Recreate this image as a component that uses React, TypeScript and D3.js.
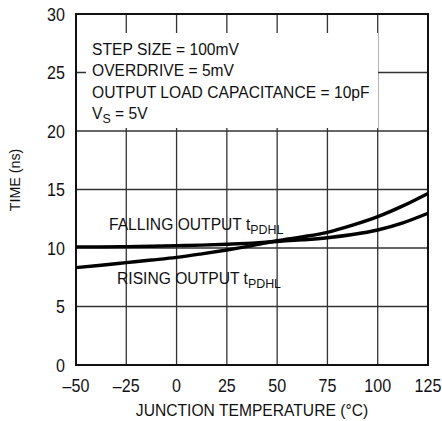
import React, { useRef, useEffect } from 'react';
import * as d3 from 'd3';

// Junction temperature (°C) sample points
const TEMPS = [-50, -37.5, -25, -12.5, 0, 12.5, 25, 37.5, 50, 62.5, 75, 87.5, 100, 112.5, 125];
// Falling output tPDHL (ns)
const FALLING = [10.1, 10.1, 10.12, 10.15, 10.2, 10.25, 10.32, 10.42, 10.56, 10.7, 10.88, 11.15, 11.54, 12.15, 12.97];
// Rising output tPDHL (ns)
const RISING = [8.32, 8.53, 8.75, 8.97, 9.2, 9.5, 9.83, 10.2, 10.62, 10.95, 11.34, 11.95, 12.68, 13.6, 14.67];

const X_TICKS = [-50, -25, 0, 25, 50, 75, 100, 125];
const Y_TICKS = [0, 5, 10, 15, 20, 25, 30];
const NOTES = ['STEP SIZE = 100mV', 'OVERDRIVE = 5mV', 'OUTPUT LOAD CAPACITANCE = 10pF'];

const WIDTH = 442;
const HEIGHT = 421;
const FONT = "'Liberation Sans', Arial, sans-serif";
const NARROW = 0.92; // squeeze Liberation Sans a little

const App: React.FC = () => {
  const svgRef = useRef<SVGSVGElement>(null);

  useEffect(() => {
    const svgElement = svgRef.current;
    if (!svgElement) return;
    const svg = d3.select(svgElement);
    svg.selectAll('*').remove();

    const x = d3.scaleLinear().domain([-50, 125]).range([76, 428]);
    const y = d3.scaleLinear().domain([0, 30]).range([365, 14]);
    const [x0, x1] = x.range();
    const [y0, y1] = y.range();

    svg.append('rect').attr('width', WIDTH).attr('height', HEIGHT).attr('fill', '#fff');

    // grid
    const grid = svg.append('g').attr('stroke', '#333').attr('stroke-width', 1.3);
    X_TICKS.slice(1, -1).forEach(t => {
      grid.append('line').attr('x1', x(t)).attr('x2', x(t)).attr('y1', y1).attr('y2', y0);
    });
    Y_TICKS.slice(1, -1).forEach(t => {
      grid.append('line').attr('x1', x0).attr('x2', x1).attr('y1', y(t)).attr('y2', y(t));
    });

    // white box behind the notes
    svg.append('rect')
      .attr('x', 86).attr('y', 33).attr('width', 292).attr('height', 95)
      .attr('fill', '#fff');

    // frame
    svg.append('rect')
      .attr('x', x0).attr('y', y1).attr('width', x1 - x0).attr('height', y0 - y1)
      .attr('fill', 'none').attr('stroke', '#111').attr('stroke-width', 2);

    // curves
    const line = d3.line<number>()
      .x((_, i) => x(TEMPS[i]))
      .y(d => y(d))
      .curve(d3.curveMonotoneX);

    [FALLING, RISING].forEach(series => {
      svg.append('path').datum(series)
        .attr('fill', 'none').attr('stroke', '#000').attr('stroke-width', 3.4)
        .attr('d', line);
    });

    const text = svg.append('g').attr('font-family', FONT).attr('fill', '#111');

    const label = (tx: number, ty: number, size: number, anchor = 'start', rotate = 0) =>
      text.append('text')
        .attr('transform', `translate(${tx},${ty}) rotate(${rotate}) scale(${NARROW},1)`)
        .attr('text-anchor', anchor)
        .attr('font-size', `${size}px`);

    // tick labels
    const fmt = (v: number) => (v < 0 ? '\u2013' + Math.abs(v) : String(v));
    X_TICKS.forEach(t => {
      label(x(t), 392, 17.5, 'middle').text(fmt(t));
    });
    Y_TICKS.forEach(t => {
      label(65, y(t) + 6.5, 17.5, 'end').text(String(t));
    });

    // axis titles
    label((x0 + x1) / 2, 416, 17, 'middle').text('JUNCTION TEMPERATURE (\u00B0C)');
    label(20, 180, 15.5, 'middle', -90).text('TIME (ns)');

    // notes
    NOTES.forEach((n, i) => {
      label(92, 55 + i * 21.3, 17).text(n);
    });
    const vs = label(92, 118.5, 17);
    vs.append('tspan').text('V');
    vs.append('tspan').attr('dy', 4).attr('font-size', '13.5px').text('S');
    vs.append('tspan').attr('dy', -4).text(' = 5V');

    // curve labels
    const curveLabel = (lx: number, ly: number, main: string) => {
      const t = label(lx, ly, 17);
      t.append('tspan').text(main + ' t');
      t.append('tspan').attr('dy', 4).attr('font-size', '13.5px').text('PDHL');
    };
    curveLabel(109, 230, 'FALLING OUTPUT');
    curveLabel(117, 284, 'RISING OUTPUT');
  }, []);

  return (
    <svg
      ref={svgRef}
      width={WIDTH}
      height={HEIGHT}
      style={{ position: 'absolute', top: 0, left: 0, display: 'block' }}
    />
  );
};

export default App;
